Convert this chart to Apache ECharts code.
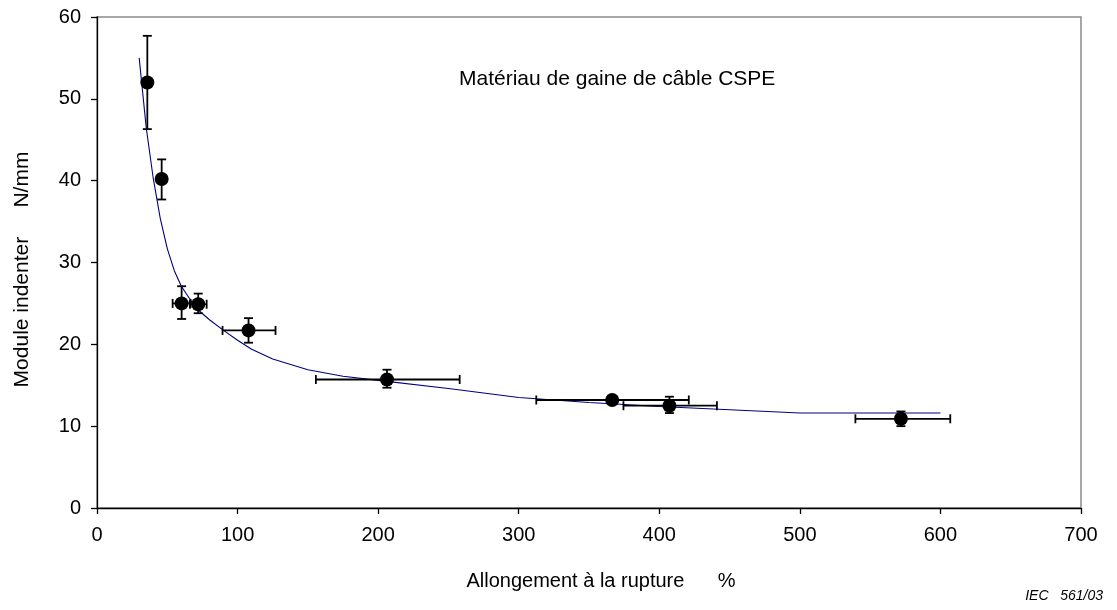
<!DOCTYPE html>
<html>
<head>
<meta charset="utf-8">
<script src="https://cdn.jsdelivr.net/npm/echarts@6/dist/echarts.min.js"></script>
<style>
  html, body { margin: 0; padding: 0; background: #fff; }
  #chart { width: 1117px; height: 610px; }
</style>
</head>
<body>
<div id="chart"></div>
<script>
// Measured points: elongation at break (%) vs indenter modulus (N/mm)
const elongation = [35.8, 46.0, 60.2, 72.0, 107.8, 206.3, 366.5, 407.2, 571.9];
const modulus    = [52.0, 40.2, 25.0, 24.9, 21.7, 15.7, 13.2, 12.5, 10.9];
// Error ranges (low / high) on each axis
const elongLow   = [35.8, 46.0, 53.8, 66.1, 89.3, 155.7, 312.5, 374.5, 539.5];
const elongHigh  = [35.8, 46.0, 66.6, 78.0, 127.0, 258.0, 421.0, 441.0, 607.0];
const modLow     = [46.3, 37.7, 23.1, 23.8, 20.2, 14.7, 13.2, 11.6, 10.0];
const modHigh    = [57.7, 42.6, 27.1, 26.2, 23.2, 16.9, 13.2, 13.6, 11.8];

// Trend curve read along its path
const curveX = [30, 35, 40, 45, 50, 55, 60, 70, 80, 90, 100, 110, 125, 150, 175, 200, 250, 300, 350, 400, 450, 500, 600];
const curveY = [55.0, 46.5, 40.3, 35.4, 31.7, 29.0, 27.1, 24.5, 23.0, 21.7, 20.5, 19.4, 18.2, 16.9, 16.1, 15.6, 14.6, 13.5, 12.9, 12.4, 12.0, 11.6, 11.6];

const xTicks = [0, 100, 200, 300, 400, 500, 600, 700];
const yTicks = [0, 10, 20, 30, 40, 50, 60];

const chart = echarts.init(document.getElementById('chart'), null, { renderer: 'canvas' });

const FONT = 'Liberation Sans, Arial, sans-serif';

const points = elongation.map((x, i) => [x, modulus[i]]);
const errData = elongation.map((x, i) => [x, modulus[i], elongLow[i], elongHigh[i], modLow[i], modHigh[i]]);
const curve = curveX.map((x, i) => [x, curveY[i]]);

function renderErr(params, api) {
  const x = api.value(0), y = api.value(1);
  const xl = api.value(2), xh = api.value(3), yl = api.value(4), yh = api.value(5);
  const cap = 4.5;
  const style = { stroke: '#000', lineWidth: 1.8 };
  const children = [];
  if (yh > yl) {
    const top = api.coord([x, yh]), bot = api.coord([x, yl]);
    children.push({ type: 'line', shape: { x1: top[0], y1: top[1], x2: bot[0], y2: bot[1] }, style });
    children.push({ type: 'line', shape: { x1: top[0] - cap, y1: top[1], x2: top[0] + cap, y2: top[1] }, style });
    children.push({ type: 'line', shape: { x1: bot[0] - cap, y1: bot[1], x2: bot[0] + cap, y2: bot[1] }, style });
  }
  if (xh > xl) {
    const l = api.coord([xl, y]), r = api.coord([xh, y]);
    children.push({ type: 'line', shape: { x1: l[0], y1: l[1], x2: r[0], y2: r[1] }, style });
    children.push({ type: 'line', shape: { x1: l[0], y1: l[1] - cap, x2: l[0], y2: l[1] + cap }, style });
    children.push({ type: 'line', shape: { x1: r[0], y1: r[1] - cap, x2: r[0], y2: r[1] + cap }, style });
  }
  return { type: 'group', children };
}

chart.setOption({
  animation: false,
  backgroundColor: '#fff',
  grid: {
    left: 97, right: 36, top: 17, bottom: 102,
    show: true, borderColor: '#8a8a8a', borderWidth: 1.5, backgroundColor: 'transparent'
  },
  xAxis: {
    type: 'value', min: xTicks[0], max: xTicks[xTicks.length - 1], interval: 100,
    name: 'Allongement à la rupture      %',
    nameLocation: 'middle', nameGap: 63,
    nameTextStyle: { color: '#000', fontFamily: FONT, fontSize: 20, padding: [0, 0, 0, 24] },
    axisLine: { show: true, onZero: false, lineStyle: { color: '#000', width: 1.3 } },
    axisTick: { show: true, inside: false, length: 6, lineStyle: { color: '#000', width: 1.3 } },
    axisLabel: { color: '#000', fontFamily: FONT, fontSize: 20, margin: 17 },
    splitLine: { show: false }
  },
  yAxis: {
    type: 'value', min: yTicks[0], max: yTicks[yTicks.length - 1], interval: 10,
    name: 'Module indenter     N/mm',
    nameLocation: 'middle', nameGap: 64,
    nameTextStyle: { color: '#000', fontFamily: FONT, fontSize: 21, padding: [0, 14, 0, 0] },
    axisLine: { show: true, onZero: false, lineStyle: { color: '#000', width: 1.3 } },
    axisTick: { show: true, inside: false, length: 6, lineStyle: { color: '#000', width: 1.3 } },
    axisLabel: { color: '#000', fontFamily: FONT, fontSize: 20, margin: 16 },
    splitLine: { show: false }
  },
  graphic: [
    {
      type: 'text', left: 459, top: 69,
      style: { text: 'Matériau de gaine de câble CSPE', fill: '#000', font: '21px ' + FONT }
    },
    {
      type: 'text', right: 14, top: 589,
      style: { text: 'IEC   561/03', fill: '#000', font: 'italic 14px ' + FONT }
    }
  ],
  series: [
    {
      type: 'line', data: curve, showSymbol: false, smooth: false,
      lineStyle: { color: '#000080', width: 1.1 }, z: 2, silent: true
    },
    {
      type: 'custom', data: errData, renderItem: renderErr,
      encode: { x: 0, y: 1 }, z: 3, silent: true
    },
    {
      type: 'scatter', data: points, symbol: 'circle', symbolSize: 14,
      itemStyle: { color: '#000', opacity: 1 }, z: 4, silent: true
    }
  ]
});
</script>
</body>
</html>
